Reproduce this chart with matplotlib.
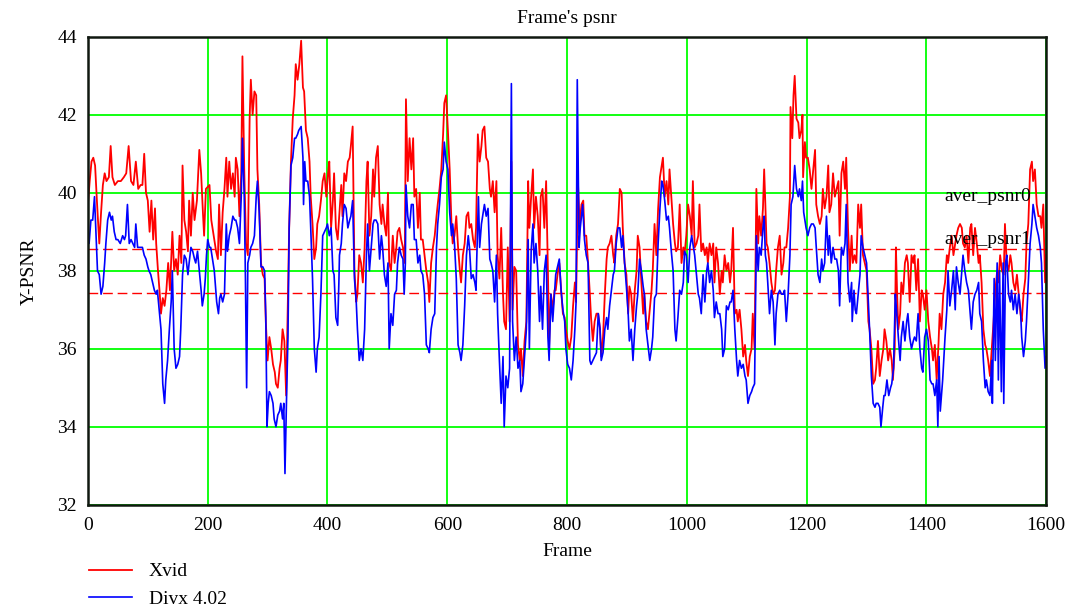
import matplotlib
matplotlib.use('Agg')
import matplotlib.pyplot as plt

plt.rcParams['font.family'] = ['Liberation Serif', 'DejaVu Serif']

xvid_frames = [
    0, 3, 6, 9, 12, 15, 19, 22, 25, 28, 31, 35, 38, 41, 45, 50, 55, 60, 64, 68,
    72, 76, 80, 84, 88, 91, 94, 97, 100, 103, 106, 109, 112, 114, 117, 120, 122, 125, 128, 131,
    134, 137, 141, 144, 147, 150, 153, 156, 158, 161, 164, 167, 169, 172, 175, 178, 182, 186, 189, 192,
    194, 197, 203, 206, 208, 211, 214, 217, 219, 222, 225, 228, 231, 233, 236, 239, 242, 245, 247, 250,
    253, 256, 258, 261, 264, 267, 270, 272, 275, 278, 281, 283, 286, 289, 292, 295, 297, 300, 303, 306,
    309, 312, 314, 317, 320, 322, 325, 328, 331, 334, 336, 339, 342, 345, 347, 350, 353, 356, 359, 361,
    364, 367, 370, 372, 375, 378, 381, 383, 386, 389, 392, 395, 398, 401, 403, 406, 409, 411, 414, 417,
    420, 423, 425, 428, 431, 434, 437, 439, 442, 445, 448, 450, 453, 456, 459, 462, 465, 467, 470, 473,
    476, 478, 481, 484, 487, 490, 492, 495, 498, 501, 503, 506, 509, 512, 515, 517, 520, 523, 526, 529,
    531, 534, 537, 540, 543, 545, 548, 551, 554, 556, 559, 562, 565, 568, 570, 573, 576, 579, 582, 584,
    587, 590, 593, 595, 598, 601, 604, 607, 609, 612, 615, 618, 621, 623, 626, 629, 632, 635, 637, 640,
    643, 646, 648, 651, 654, 657, 659, 662, 665, 668, 671, 673, 676, 679, 682, 684, 687, 690, 693, 695,
    698, 701, 704, 707, 709, 712, 715, 718, 721, 723, 726, 729, 732, 735, 737, 740, 743, 745, 748, 751,
    754, 756, 759, 762, 765, 768, 770, 773, 776, 779, 781, 784, 787, 790, 793, 796, 798, 801, 804, 807,
    810, 813, 815, 818, 821, 824, 827, 829, 832, 835, 838, 840, 843, 846, 849, 852, 855, 857, 860, 863,
    866, 868, 871, 874, 877, 879, 882, 885, 888, 891, 893, 896, 899, 902, 904, 907, 910, 913, 916, 918,
    921, 924, 927, 929, 932, 935, 938, 941, 943, 946, 949, 952, 955, 958, 960, 963, 966, 969, 971, 974,
    977, 980, 982, 985, 988, 991, 994, 996, 999, 1002, 1005, 1008, 1010, 1013, 1016, 1019, 1021, 1024, 1027, 1030,
    1033, 1035, 1038, 1041, 1044, 1046, 1049, 1052, 1055, 1058, 1060, 1063, 1066, 1069, 1072, 1074, 1077, 1080, 1083, 1085,
    1088, 1091, 1094, 1097, 1099, 1102, 1105, 1108, 1110, 1113, 1116, 1119, 1121, 1124, 1127, 1129, 1131, 1133, 1135, 1138,
    1141, 1144, 1147, 1149, 1152, 1155, 1158, 1161, 1163, 1166, 1169, 1172, 1173, 1176, 1178, 1180, 1183, 1186, 1188, 1191,
    1193, 1194, 1197, 1199, 1202, 1205, 1208, 1211, 1214, 1216, 1219, 1222, 1225, 1227, 1230, 1233, 1236, 1238, 1241, 1244,
    1247, 1250, 1253, 1255, 1258, 1261, 1264, 1266, 1269, 1272, 1275, 1277, 1280, 1283, 1286, 1289, 1291, 1294, 1297, 1300,
    1303, 1305, 1308, 1311, 1314, 1316, 1319, 1322, 1325, 1328, 1330, 1333, 1336, 1339, 1342, 1344, 1347, 1349, 1351, 1353,
    1356, 1358, 1361, 1364, 1367, 1369, 1372, 1375, 1378, 1380, 1383, 1386, 1389, 1392, 1394, 1397, 1400, 1403, 1406, 1409,
    1411, 1414, 1417, 1420, 1422, 1425, 1428, 1431, 1434, 1436, 1439, 1442, 1445, 1448, 1450, 1453, 1456, 1459, 1461, 1464,
    1467, 1470, 1473, 1475, 1478, 1481, 1484, 1487, 1489, 1492, 1495, 1498, 1500, 1503, 1506, 1509, 1512, 1515, 1518, 1520,
    1523, 1526, 1529, 1531, 1534, 1537, 1540, 1542, 1545, 1548, 1551, 1554, 1557, 1559, 1562, 1565, 1567, 1570, 1573, 1576,
    1578, 1581, 1584, 1587, 1590, 1592, 1595, 1598, 1600,
]
xvid_psnr = [
    39.7, 40.3, 40.8, 40.9, 40.7, 39.8, 38.7, 39.5, 40.2, 40.5, 40.3, 40.4, 41.2, 40.4, 40.2, 40.3, 40.3, 40.4, 40.5, 41.2,
    40.3, 40.2, 40.8, 40.1, 40.2, 40.2, 41.0, 40.0, 39.8, 39.0, 39.8, 38.8, 39.6, 38.7, 38.0, 37.4, 36.9, 37.3, 37.1, 37.5,
    38.2, 37.5, 39.0, 38.0, 38.3, 37.9, 38.9, 38.2, 40.7, 39.3, 39.0, 38.5, 39.8, 38.9, 40.0, 39.3, 39.8, 41.1, 40.5, 39.5,
    38.9, 40.1, 40.2, 39.3, 39.1, 38.8, 38.5, 38.3, 39.7, 38.4, 39.5, 40.1, 40.9, 39.9, 40.8, 40.1, 40.5, 39.9, 40.9, 40.6,
    39.4, 40.5, 43.5, 40.6, 38.7, 38.4, 41.9, 42.9, 42.0, 42.6, 42.5, 40.6, 39.7, 38.2, 37.9, 37.8, 36.7, 35.7, 36.3, 36.0,
    35.6, 35.4, 35.1, 35.0, 35.5, 35.7, 36.5, 36.2, 34.8, 37.4, 39.1, 40.8, 41.9, 42.5, 43.3, 42.9, 43.3, 43.9, 42.7, 42.6,
    41.6, 41.4, 40.8, 39.9, 39.2, 38.3, 38.6, 39.2, 39.4, 39.8, 40.3, 40.5, 39.9, 40.5, 40.8, 39.1, 39.8, 40.5, 39.1, 38.8,
    39.5, 40.2, 39.4, 40.5, 40.3, 40.8, 40.9, 41.2, 41.7, 38.0, 37.2, 37.4, 38.4, 38.2, 37.7, 38.6, 40.3, 40.8, 38.9, 39.4,
    40.6, 39.9, 40.9, 41.2, 39.7, 39.2, 39.7, 39.2, 38.9, 40.0, 38.2, 38.0, 38.9, 38.2, 38.6, 39.0, 39.1, 38.8, 38.6, 38.2,
    42.4, 40.3, 41.4, 40.6, 41.4, 39.9, 40.1, 39.1, 40.0, 38.8, 38.8, 38.4, 38.0, 37.7, 37.2, 38.2, 38.6, 38.9, 39.4, 39.7,
    40.1, 40.6, 41.5, 42.3, 42.5, 41.6, 40.6, 39.2, 38.7, 38.9, 39.4, 38.6, 38.0, 37.7, 38.4, 38.7, 39.4, 39.5, 39.1, 39.2,
    38.8, 38.6, 39.1, 41.5, 40.8, 41.2, 41.6, 41.7, 40.9, 40.8, 40.1, 39.9, 40.3, 39.5, 40.3, 38.4, 37.8, 39.1, 37.4, 36.7,
    36.5, 38.6, 36.7, 40.8, 37.0, 38.1, 38.0, 36.1, 35.7, 36.0, 35.3, 36.2, 36.7, 40.3, 39.1, 39.9, 40.6, 39.1, 39.9, 39.4,
    38.4, 39.9, 40.1, 39.1, 40.3, 38.0, 36.1, 37.4, 37.0, 37.5, 37.5, 37.9, 38.2, 37.5, 36.9, 36.8, 36.5, 36.2, 36.0, 36.3,
    37.1, 37.7, 37.2, 40.3, 39.2, 39.7, 39.8, 38.9, 38.9, 38.2, 37.4, 36.8, 36.2, 36.7, 36.9, 36.9, 36.5, 35.8, 36.3, 37.4,
    38.3, 38.6, 38.7, 38.9, 38.4, 38.2, 38.9, 39.2, 40.1, 40.0, 39.1, 38.2, 37.9, 36.9, 37.6, 37.4, 36.7, 37.5, 38.0, 38.9,
    38.6, 37.7, 36.9, 37.4, 36.7, 36.5, 37.0, 37.5, 38.0, 39.2, 38.4, 39.6, 40.4, 40.7, 40.9, 39.9, 40.3, 39.7, 40.6, 39.9,
    39.2, 38.7, 38.5, 38.6, 39.7, 38.2, 38.6, 38.4, 38.9, 39.7, 39.4, 38.9, 40.3, 38.6, 38.7, 38.9, 39.7, 38.5, 38.7, 38.4,
    38.6, 38.2, 38.7, 38.4, 38.7, 37.7, 38.6, 38.2, 37.4, 38.0, 37.7, 38.4, 38.0, 38.2, 37.7, 38.0, 39.1, 36.9, 37.0, 36.7,
    37.0, 36.5, 35.8, 36.1, 35.7, 35.3, 35.8, 36.0, 36.9, 36.0, 40.1, 38.7, 39.4, 38.9, 39.6, 40.6, 39.7, 38.7, 38.6, 38.2,
    37.7, 37.4, 37.5, 38.0, 38.6, 38.9, 37.9, 38.2, 38.6, 38.6, 39.1, 39.9, 42.2, 41.4, 42.5, 43.0, 41.9, 41.8, 41.4, 41.6,
    42.0, 40.4, 41.3, 40.9, 40.9, 40.6, 40.1, 40.6, 41.1, 39.7, 39.4, 39.2, 39.4, 40.1, 39.6, 39.9, 40.7, 39.5, 39.7, 40.5,
    39.9, 40.1, 40.3, 38.9, 40.5, 40.8, 40.1, 40.9, 39.1, 38.0, 38.9, 38.2, 38.4, 38.2, 39.7, 39.1, 39.7, 38.4, 38.2, 38.0,
    36.7, 36.5, 36.0, 35.1, 35.2, 35.5, 36.2, 35.3, 35.7, 36.0, 36.5, 36.2, 35.7, 36.0, 35.7, 35.2, 36.0, 38.6, 37.4, 36.5,
    36.9, 37.7, 37.4, 38.2, 38.4, 38.2, 37.2, 38.4, 38.2, 38.4, 37.5, 38.3, 36.7, 37.5, 37.4, 37.0, 37.5, 36.7, 36.3, 36.0,
    35.7, 36.1, 35.2, 36.1, 36.9, 36.5, 37.4, 37.7, 38.4, 38.2, 38.6, 38.9, 38.4, 38.7, 38.9, 39.1, 39.2, 39.1, 38.7, 38.6,
    38.9, 38.2, 39.1, 39.2, 38.4, 39.1, 38.7, 38.2, 38.4, 37.7, 36.5, 36.1, 36.0, 35.7, 35.3, 36.0, 36.7, 37.5, 38.0, 37.7,
    38.4, 38.0, 37.9, 39.2, 38.2, 38.0, 38.4, 38.2, 37.7, 37.5, 37.9, 37.4, 36.9, 36.7, 37.4, 37.8, 38.7, 39.2, 40.6, 40.8,
    40.3, 40.6, 39.7, 39.4, 39.4, 39.1, 39.7, 37.7, 38.4,
]

# Divx 4.02 : courbe bleue
divx_frames = [
    0, 2, 5, 8, 11, 14, 16, 19, 22, 25, 28, 30, 33, 36, 39, 41, 44, 47, 50, 54,
    58, 61, 63, 66, 69, 72, 75, 78, 80, 83, 87, 91, 94, 97, 100, 102, 105, 108, 111, 114,
    116, 119, 122, 125, 128, 130, 133, 136, 139, 141, 144, 147, 150, 153, 155, 158, 161, 164, 167, 169,
    172, 175, 178, 180, 183, 186, 189, 191, 194, 196, 198, 200, 203, 205, 208, 211, 213, 215, 218, 220,
    222, 225, 228, 231, 233, 236, 239, 242, 245, 247, 250, 253, 256, 258, 261, 263, 265, 267, 270, 272,
    275, 278, 281, 283, 286, 289, 292, 295, 297, 299, 301, 303, 306, 309, 311, 314, 317, 320, 322, 325,
    327, 329, 332, 334, 336, 339, 342, 345, 347, 350, 352, 356, 359, 360, 362, 364, 367, 370, 372, 375,
    378, 381, 383, 386, 389, 392, 395, 398, 400, 403, 406, 409, 411, 414, 417, 419, 420, 423, 425, 428,
    431, 434, 437, 439, 442, 445, 448, 450, 453, 456, 459, 462, 465, 467, 470, 473, 476, 478, 481, 484,
    487, 490, 492, 495, 498, 501, 503, 506, 509, 512, 515, 517, 520, 523, 526, 528, 530, 531, 534, 537,
    540, 543, 545, 548, 551, 554, 556, 559, 562, 565, 568, 570, 573, 576, 579, 582, 584, 587, 590, 593,
    595, 598, 601, 604, 607, 609, 612, 615, 618, 621, 623, 626, 629, 632, 635, 637, 640, 643, 646, 648,
    649, 652, 654, 657, 659, 662, 665, 668, 671, 673, 676, 679, 682, 684, 687, 690, 693, 695, 698, 701,
    704, 707, 709, 712, 715, 718, 721, 723, 726, 729, 732, 735, 737, 740, 743, 745, 748, 751, 754, 756,
    759, 762, 765, 768, 770, 773, 776, 779, 781, 784, 787, 790, 793, 796, 798, 801, 804, 807, 810, 813,
    815, 817, 820, 822, 826, 829, 832, 835, 838, 840, 843, 846, 849, 852, 855, 857, 860, 863, 866, 868,
    871, 874, 877, 879, 882, 885, 888, 891, 893, 896, 899, 902, 904, 907, 910, 913, 916, 918, 921, 924,
    927, 929, 932, 935, 938, 941, 943, 946, 949, 952, 955, 958, 960, 963, 966, 969, 971, 974, 977, 980,
    982, 985, 988, 991, 994, 996, 999, 1002, 1005, 1008, 1010, 1013, 1016, 1019, 1021, 1024, 1027, 1030, 1033, 1035,
    1038, 1041, 1044, 1046, 1049, 1052, 1055, 1058, 1060, 1063, 1066, 1069, 1072, 1074, 1077, 1080, 1083, 1085, 1088, 1091,
    1094, 1097, 1099, 1102, 1105, 1108, 1110, 1113, 1116, 1119, 1121, 1124, 1127, 1129, 1131, 1133, 1135, 1138, 1141, 1144,
    1147, 1149, 1152, 1155, 1158, 1161, 1163, 1166, 1169, 1172, 1174, 1177, 1180, 1183, 1186, 1188, 1191, 1193, 1195, 1199,
    1202, 1205, 1208, 1211, 1214, 1216, 1219, 1222, 1225, 1227, 1230, 1233, 1236, 1238, 1241, 1244, 1247, 1250, 1253, 1255,
    1257, 1258, 1261, 1264, 1266, 1269, 1272, 1275, 1276, 1279, 1281, 1283, 1286, 1289, 1291, 1294, 1297, 1300, 1303, 1305,
    1308, 1311, 1314, 1316, 1319, 1322, 1324, 1327, 1329, 1331, 1334, 1337, 1340, 1342, 1345, 1348, 1349, 1353, 1356, 1358,
    1361, 1364, 1367, 1369, 1372, 1375, 1378, 1380, 1383, 1386, 1389, 1392, 1394, 1397, 1400, 1403, 1406, 1409, 1411, 1414,
    1417, 1419, 1421, 1423, 1427, 1431, 1434, 1436, 1439, 1442, 1445, 1448, 1450, 1453, 1456, 1459, 1461, 1464, 1467, 1470,
    1473, 1475, 1478, 1481, 1484, 1487, 1489, 1492, 1495, 1498, 1500, 1503, 1506, 1509, 1510, 1513, 1515, 1518, 1520, 1522,
    1525, 1528, 1529, 1532, 1534, 1537, 1540, 1542, 1545, 1548, 1551, 1554, 1557, 1559, 1562, 1565, 1567, 1570, 1573, 1576,
    1578, 1581, 1584, 1587, 1590, 1592, 1595, 1598, 1600,
]
divx_psnr = [
    38.9, 38.7, 39.3, 39.3, 39.9, 38.8, 38.0, 37.9, 37.4, 37.6, 38.2, 38.7, 39.3, 39.5, 39.3, 39.4, 39.0, 38.8, 38.8, 38.7,
    38.9, 38.8, 38.9, 39.7, 38.7, 38.8, 38.7, 38.6, 39.2, 38.6, 38.6, 38.6, 38.4, 38.3, 38.1, 38.0, 37.9, 37.7, 37.5, 37.4,
    37.5, 37.0, 36.5, 35.1, 34.6, 35.2, 35.7, 36.5, 37.2, 38.0, 36.0, 35.5, 35.6, 35.8, 36.5, 37.9, 38.4, 38.3, 37.9, 38.2,
    38.6, 38.5, 38.3, 38.2, 38.5, 38.0, 37.5, 37.1, 37.4, 37.8, 38.4, 38.8, 38.6, 38.6, 38.3, 38.0, 37.6, 37.2, 36.9, 37.3,
    37.4, 37.2, 37.4, 39.2, 38.5, 38.9, 39.1, 39.4, 39.3, 39.3, 39.1, 38.7, 39.9, 41.4, 39.9, 37.8, 35.0, 38.2, 38.4, 38.6,
    38.7, 38.9, 39.9, 40.3, 39.5, 38.1, 38.1, 38.0, 36.8, 34.0, 34.6, 34.9, 34.8, 34.6, 34.2, 34.0, 34.3, 34.4, 34.6, 34.2,
    34.6, 32.8, 35.0, 36.3, 39.1, 40.7, 40.9, 41.4, 41.4, 41.5, 41.6, 41.7, 40.9, 39.7, 40.8, 40.3, 40.3, 39.9, 39.1, 37.8,
    36.0, 35.4, 36.0, 36.3, 37.4, 38.9, 39.0, 39.1, 39.2, 38.9, 39.1, 38.0, 37.9, 36.8, 36.6, 37.7, 38.4, 38.7, 39.2, 39.7,
    39.6, 39.1, 39.3, 39.4, 39.8, 37.8, 37.2, 36.5, 35.7, 36.0, 35.7, 36.5, 38.4, 39.2, 38.0, 38.6, 39.2, 39.3, 39.3, 39.2,
    38.3, 38.9, 38.6, 37.9, 37.6, 38.2, 36.0, 36.9, 36.6, 37.4, 37.5, 38.2, 38.6, 38.4, 38.3, 37.4, 38.2, 40.2, 39.4, 39.1,
    39.7, 39.7, 38.8, 38.8, 38.2, 38.4, 38.0, 37.9, 37.4, 36.1, 36.0, 35.9, 36.5, 36.8, 36.9, 38.6, 39.2, 39.7, 40.4, 40.6,
    41.3, 40.8, 40.6, 39.5, 38.9, 39.2, 38.7, 37.8, 36.1, 35.9, 35.7, 36.1, 37.1, 38.4, 38.9, 38.6, 37.8, 37.9, 37.7, 37.5,
    38.2, 39.9, 38.6, 39.2, 39.4, 39.7, 39.4, 39.6, 38.3, 38.2, 38.0, 37.2, 38.4, 36.9, 35.7, 34.6, 35.8, 34.0, 35.3, 35.0,
    35.5, 42.8, 36.7, 35.7, 36.3, 35.5, 35.7, 34.9, 35.1, 35.8, 36.5, 38.8, 36.0, 38.5, 39.2, 38.2, 38.7, 38.0, 36.7, 37.6,
    36.5, 38.0, 38.4, 36.3, 35.7, 37.4, 36.7, 37.4, 37.9, 38.1, 38.3, 37.5, 37.0, 36.7, 36.0, 35.6, 35.5, 35.2, 35.7, 36.5,
    37.2, 42.9, 38.6, 39.1, 39.7, 38.8, 38.4, 38.2, 35.7, 35.6, 35.7, 35.8, 35.9, 36.9, 36.5, 35.7, 35.9, 36.5, 36.8, 36.5,
    37.1, 37.5, 37.9, 38.0, 38.7, 39.1, 39.1, 38.6, 38.9, 38.2, 37.6, 36.9, 36.2, 36.5, 35.7, 36.5, 37.1, 37.4, 38.3, 38.0,
    37.6, 37.4, 36.5, 36.1, 35.7, 36.0, 36.3, 37.3, 37.4, 38.7, 39.6, 40.3, 40.2, 39.8, 39.3, 39.4, 39.1, 38.5, 38.0, 36.5,
    36.2, 36.8, 37.5, 37.4, 37.7, 38.5, 38.4, 37.7, 38.6, 38.9, 38.7, 38.4, 37.9, 37.4, 37.3, 36.9, 37.9, 37.2, 38.0, 38.2,
    37.7, 38.0, 37.5, 36.8, 37.2, 36.9, 36.9, 36.5, 35.8, 36.0, 37.1, 37.0, 37.2, 37.2, 37.5, 36.5, 35.7, 35.3, 35.7, 35.5,
    35.6, 35.3, 35.2, 34.6, 34.8, 34.9, 35.0, 35.1, 38.9, 38.0, 38.6, 38.4, 39.1, 39.4, 38.4, 38.2, 37.7, 36.9, 37.5, 37.2,
    36.1, 36.9, 37.4, 37.5, 37.4, 37.4, 37.5, 36.7, 37.4, 38.4, 39.7, 39.9, 40.7, 40.1, 39.9, 40.1, 39.8, 40.3, 39.5, 39.1,
    38.9, 39.1, 39.2, 39.2, 39.1, 38.6, 37.9, 37.7, 38.3, 38.0, 38.2, 39.4, 38.4, 38.9, 38.2, 38.6, 38.3, 38.3, 38.0, 37.1,
    38.2, 38.6, 38.4, 38.7, 39.7, 37.7, 37.2, 37.7, 36.7, 37.5, 37.0, 36.9, 37.4, 37.9, 38.9, 38.6, 38.4, 38.2, 37.2, 36.5,
    35.3, 34.6, 34.5, 34.6, 34.6, 34.5, 34.0, 34.5, 34.8, 34.8, 35.2, 34.8, 35.0, 35.1, 35.5, 37.4, 37.2, 36.3, 35.7, 36.3,
    36.7, 36.2, 36.7, 36.9, 36.3, 36.0, 36.2, 36.3, 36.2, 36.9, 36.0, 35.5, 35.4, 36.3, 36.5, 36.2, 35.2, 35.1, 35.1, 34.8,
    35.2, 34.0, 35.8, 34.4, 35.2, 36.3, 37.0, 38.0, 37.1, 37.5, 38.0, 37.0, 38.1, 37.7, 37.4, 38.0, 38.4, 38.0, 37.7, 37.5,
    36.9, 36.5, 37.2, 37.4, 37.5, 37.7, 36.9, 36.7, 35.7, 35.0, 35.2, 34.9, 34.8, 35.7, 34.6, 37.8, 35.7, 38.2, 35.2, 38.0,
    34.9, 38.2, 34.6, 38.2, 38.4, 37.4, 37.2, 37.5, 37.0, 37.4, 36.9, 37.4, 37.0, 36.3, 35.8, 36.2, 36.7, 37.7, 38.7, 39.2,
    39.7, 39.4, 39.1, 38.9, 38.6, 38.2, 36.5, 35.5, 35.8,
]

# moyennes (lignes pointillées)
aver_psnr = [38.56, 37.42]
aver_labels = ['aver_psnr0', 'aver_psnr1']
series_names = ['Xvid', 'Divx 4.02']

fig = plt.figure(figsize=(10.72, 6.14), dpi=100)
ax = fig.add_axes([0.082, 0.178, 0.894, 0.762])

ax.set_xlim(0, 1600)
ax.set_ylim(32, 44)
ax.set_xticks(range(0, 1601, 200))
ax.set_yticks(range(32, 45, 2))
ax.grid(True, color='#00ff00', lw=1.3)
ax.set_axisbelow(True)
ax.tick_params(length=0, labelsize=14)
ax.tick_params(axis='x', pad=9)
ax.tick_params(axis='y', pad=8)

ax.plot(xvid_frames, xvid_psnr, color='#ff0000', lw=1.3, label=series_names[0])
ax.plot(divx_frames, divx_psnr, color='#0000ff', lw=1.2, label=series_names[1])

# lignes des moyennes, par-dessous les courbes
for val in aver_psnr:
    ax.axhline(val, color='#ff0000', lw=1.0, dashes=(7, 3.5), zorder=1.5)

ax.text(1430, 39.9, aver_labels[0], fontsize=14, va='center', ha='left')
ax.text(1430, 38.8, aver_labels[1], fontsize=14, va='center', ha='left')

for s in ax.spines.values():
    s.set_linewidth(1.8)
    s.set_color('#101810')

ax.set_title("Frame's psnr", fontsize=14, pad=10)
ax.set_xlabel('Frame', fontsize=14, labelpad=6)
ax.set_ylabel('Y-PSNR', fontsize=14, labelpad=14)

fig.legend(loc='upper left', bbox_to_anchor=(0.076, 0.096), frameon=False,
           fontsize=14, handlelength=2.2, handletextpad=0.85, labelspacing=0.5,
           borderaxespad=0)

fig.savefig('out.png', dpi=100)
